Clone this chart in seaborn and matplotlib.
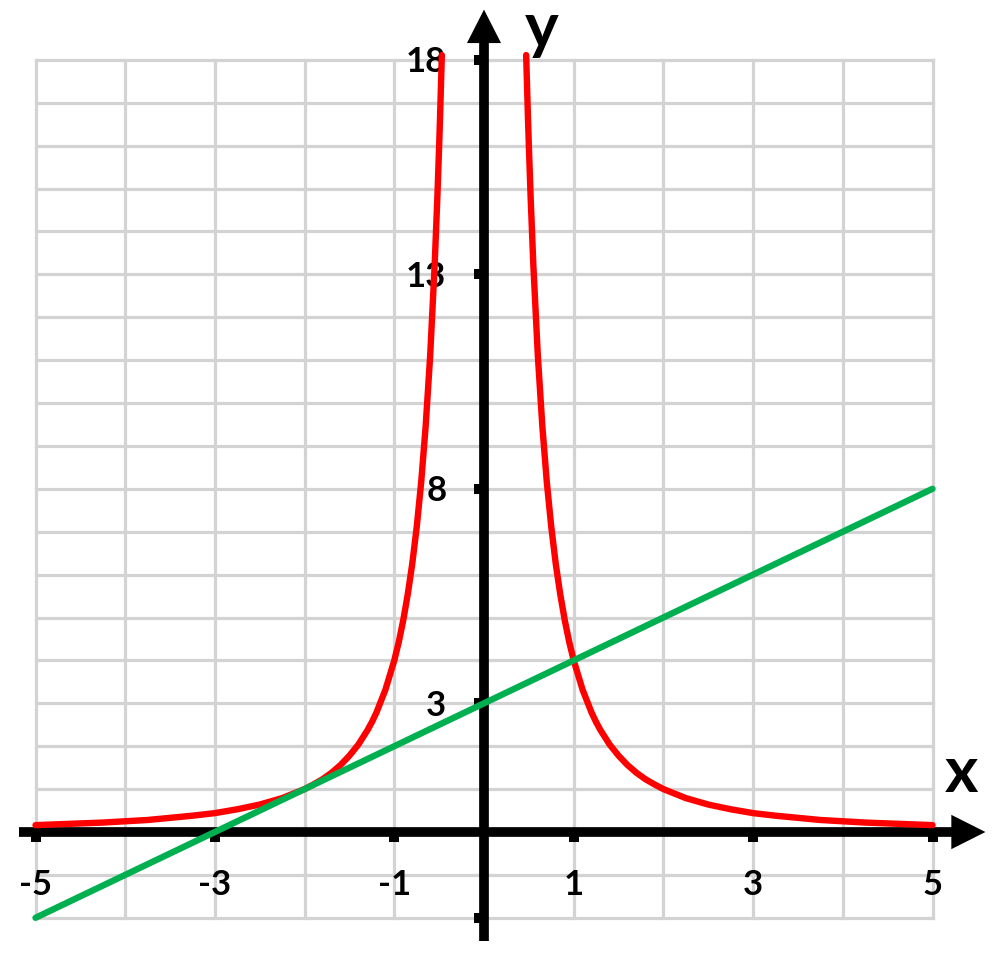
import numpy as np
import pandas as pd
import matplotlib
matplotlib.use("Agg")
import matplotlib.pyplot as plt
import seaborn as sns

# ---- data ----
red_left_x = [-5.0, -4.75, -4.5, -4.25, -4.0, -3.75, -3.5, -3.25, -3.0, -2.75, -2.5, -2.25, -2.0, -1.9, -1.8,
              -1.7, -1.6, -1.5, -1.4, -1.3, -1.25, -1.2, -1.1, -1.0, -0.95, -0.9, -0.85, -0.8, -0.75,
              -0.7, -0.65, -0.6, -0.55, -0.52, -0.5, -0.49, -0.47]
red_left_y = [0.16, 0.18, 0.20, 0.22, 0.25, 0.28, 0.33, 0.38, 0.44, 0.53, 0.64, 0.79, 1.00, 1.11, 1.23,
              1.38, 1.56, 1.78, 2.04, 2.37, 2.56, 2.78, 3.31, 4.00, 4.43, 4.94, 5.54, 6.25, 7.11,
              8.16, 9.47, 11.11, 13.22, 14.79, 16.00, 16.66, 18.11]
red_right_x = [0.47, 0.49, 0.5, 0.52, 0.55, 0.6, 0.65, 0.7, 0.75, 0.8, 0.85, 0.9, 0.95, 1.0, 1.1,
               1.2, 1.25, 1.3, 1.4, 1.5, 1.6, 1.7, 1.8, 1.9, 2.0, 2.25, 2.5, 2.75, 3.0, 3.25,
               3.5, 3.75, 4.0, 4.25, 4.5, 4.75, 5.0]
red_right_y = [18.11, 16.66, 16.00, 14.79, 13.22, 11.11, 9.47, 8.16, 7.11, 6.25, 5.54, 4.94, 4.43, 4.00, 3.31,
               2.78, 2.56, 2.37, 2.04, 1.78, 1.56, 1.38, 1.23, 1.11, 1.00, 0.79, 0.64, 0.53, 0.44, 0.38,
               0.33, 0.28, 0.25, 0.22, 0.20, 0.18, 0.16]
green_x = [-5, 5]
green_y = [-2, 8]

x_ticks = [-5, -3, -1, 1, 3, 5]
x_tick_labels = ["-5", "-3", "-1", "1", "3", "5"]
y_ticks = [-2, 3, 8, 13, 18]
y_tick_labels = ["", "3", "8", "13", "18"]

# ---- figure ----
sns.set_theme(style="white")
plt.rcParams['font.family'] = ['Lato', 'DejaVu Sans']

fig = plt.figure(figsize=(10, 9.59), dpi=100)
ax = fig.add_axes([0, 0, 1, 1])
XLIM = (-484 / 89.7, 516 / 89.7)
YLIM = (-127 / 42.9, 832 / 42.9)

# grid
grid_col = "#d3d3d3"
for gx in np.arange(-5, 6):
    ax.plot([gx, gx], [-2, 18], color=grid_col, lw=2.3, zorder=1, solid_capstyle="projecting")
for gy in np.arange(-2, 19):
    ax.plot([-5, 5], [gy, gy], color=grid_col, lw=2.3, zorder=1, solid_capstyle="projecting")

# axes lines + arrows
axis_lw = 7.0
ax.plot([-5.18, 5.25], [0, 0], color="black", lw=axis_lw, solid_capstyle="butt", zorder=3)
ax.plot([0, 0], [-2.55, 18.45], color="black", lw=axis_lw, solid_capstyle="butt", zorder=3)
ax.fill([5.21, 5.21, 5.59], [-0.4, 0.4, 0.0], color="black", zorder=3, lw=0)
ax.fill([-0.19, 0.19, 0.0], [18.39, 18.39, 19.17], color="black", zorder=3, lw=0)

# tick squares
ax.scatter(x_ticks, [-0.12] * len(x_ticks), marker="s", s=52, color="black", zorder=3, linewidths=0)
ax.scatter([-0.06] * len(y_ticks), y_ticks, marker="s", s=52, color="black", zorder=3, linewidths=0)

# tick labels
cap = 0.29
for xv, lab in zip(x_ticks, x_tick_labels):
    ax.text(xv, -1.17 - cap, lab, ha="center", va="baseline", fontsize=25, fontweight="bold",
            color="black", zorder=4)
for yv, lab in zip(y_ticks, y_tick_labels):
    if lab:
        ax.text(-0.42, yv - cap, lab, ha="right", va="baseline", fontsize=25, fontweight="bold",
                color="black", zorder=4)

# axis names
ax.text(5.32, 0.93, "x", ha="center", va="baseline", fontsize=46, fontweight="bold", color="black", zorder=4)
ax.text(0.64, 18.27, "y", ha="center", va="baseline", fontsize=46, fontweight="bold", color="black", zorder=4)

# curves
df_l = pd.DataFrame({"x": red_left_x, "y": red_left_y})
df_r = pd.DataFrame({"x": red_right_x, "y": red_right_y})
df_g = pd.DataFrame({"x": green_x, "y": green_y})
sns.lineplot(data=df_l, x="x", y="y", ax=ax, color="#ff0000", lw=4.6, estimator=None, zorder=5)
sns.lineplot(data=df_r, x="x", y="y", ax=ax, color="#ff0000", lw=4.6, estimator=None, zorder=5)
sns.lineplot(data=df_g, x="x", y="y", ax=ax, color="#00b050", lw=4.6, estimator=None, zorder=6)
ax.set_xlim(*XLIM)
ax.set_ylim(*YLIM)
ax.axis("off")

fig.savefig("out.png", dpi=100)
